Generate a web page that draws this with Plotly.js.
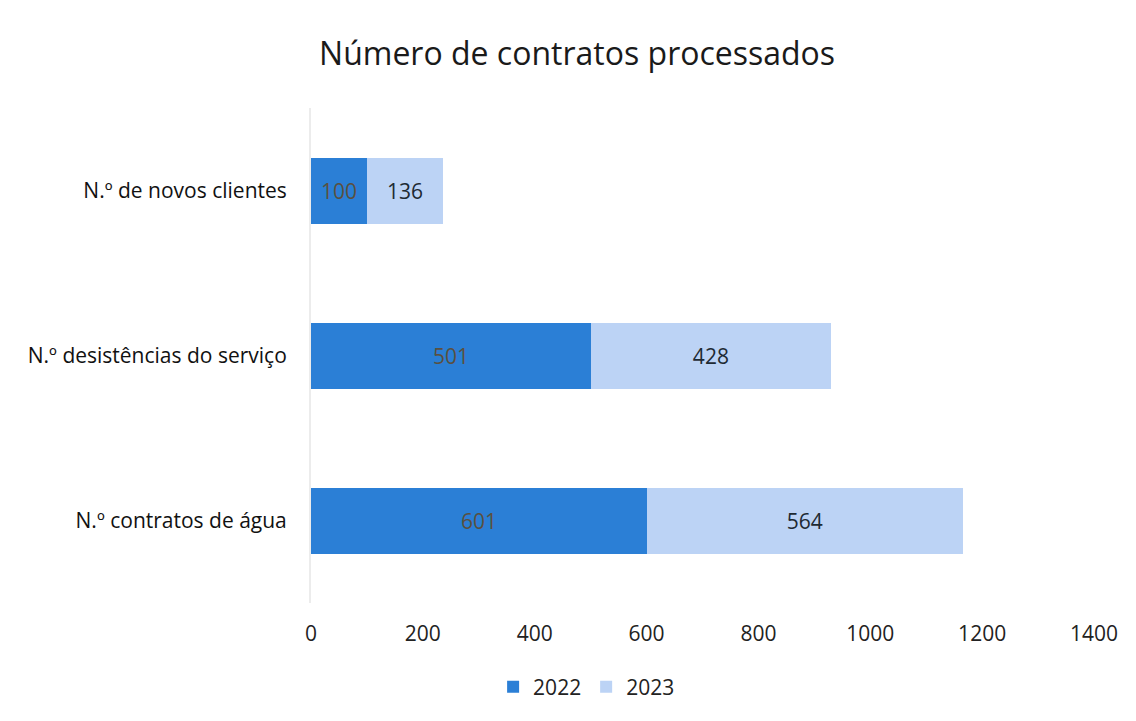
<!DOCTYPE html>
<html><head><meta charset="utf-8">
<script src="https://cdn.plot.ly/plotly-3.0.1.min.js"></script>
<style>html,body{margin:0;padding:0;background:#fff}#c{width:1136px;height:721px}</style>
</head><body><div id="c"></div>
<script>
const categories = ["N.º contratos de água", "N.º desistências do serviço", "N.º de novos clientes"];
const values2022 = [601, 501, 100];
const values2023 = [564, 428, 136];
const seriesNames = ["2022", "2023"];
const xTicks = [0, 200, 400, 600, 800, 1000, 1200, 1400];

const font = "'Open Sans', sans-serif";
const traces = [
  {type:"bar", orientation:"h", name:seriesNames[0], y:categories, x:values2022,
   marker:{color:"#2b7fd6"}, text:values2022.map(String), textposition:"inside",
   insidetextanchor:"middle", textfont:{color:"#5a5040", size:21, family:font}},
  {type:"bar", orientation:"h", name:seriesNames[1], y:categories, x:values2023,
   marker:{color:"#bcd3f5"}, text:values2023.map(String), textposition:"inside",
   insidetextanchor:"middle", textfont:{color:"#1e2a33", size:21, family:font}}
];
const layout = {
  width:1136, height:721, barmode:"stack", bargap:0.6,
  paper_bgcolor:"#fff", plot_bgcolor:"#fff",
  font:{family:font, color:"#222", size:21},
  title:{text:"Número de contratos processados", font:{size:32, color:"#1a1a1a", family:font}, x:0.508, xanchor:"center", y:0.925, yanchor:"middle"},
  margin:{l:311, r:42, t:108, b:118},
  xaxis:{range:[0,1400], tickvals:xTicks, showgrid:false, zeroline:false, showline:false,
         ticks:"", ticklabelstandoff:16, tickfont:{size:21, color:"#222"}},
  yaxis:{showgrid:false, zeroline:false, showline:true, linecolor:"#ececec", linewidth:2,
         ticks:"", ticklabelstandoff:18, tickfont:{size:21, color:"#111"}},
  legend:{orientation:"h", x:0.352, xanchor:"center", y:-0.17, yanchor:"middle",
          font:{size:21, color:"#222"}, traceorder:"normal", itemwidth:30},
  uniformtext:{mode:false}
};
Plotly.newPlot("c", traces, layout, {displayModeBar:false, staticPlot:true});
</script></body></html>
